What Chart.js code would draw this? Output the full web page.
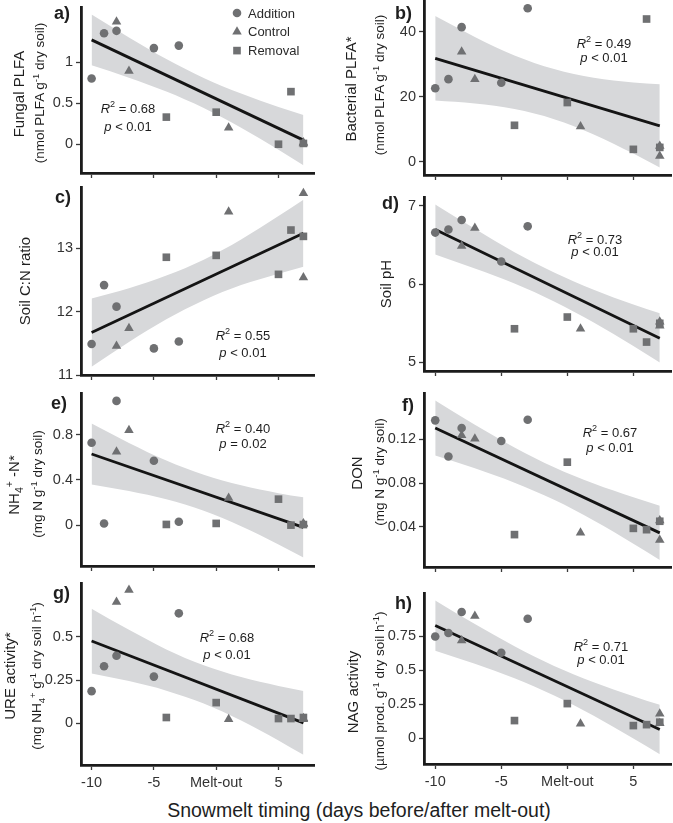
<!DOCTYPE html>
<html>
<head>
<meta charset="utf-8">
<script src="https://cdn.jsdelivr.net/npm/chart.js@4.4.0/dist/chart.umd.min.js"></script>
<style>
body { margin: 0; background: #fff; }
#fig { position: relative; width: 673px; height: 823px; overflow: hidden; font-family: "Liberation Sans", Arial, sans-serif; color: #1e1e1e; }
#fig canvas { position: absolute; }
.lbl { position: absolute; font-weight: bold; font-size: 18px; line-height: 1; transform: translate(-100%, -50%); }
.ytl { position: absolute; white-space: nowrap; line-height: 1; transform: translate(-50%, -50%) rotate(-90deg); }
.main { font-size: 15px; }
.sub { font-size: 13.5px; }
.stat { position: absolute; font-size: 13px; line-height: 1; white-space: nowrap; transform: translate(-50%, -50%); }
.xt { position: absolute; font-size: 19.5px; white-space: nowrap; line-height: 1; transform: translate(-50%, -50%); }
sup, sub { font-size: 0.7em; line-height: 0; }
</style>
</head>
<body>
<div id="fig"></div>
<script>
// x values (days relative to melt-out)
const xTickVals = [-10, -5, 0, 5];
const xTickLabels = ['-10', '-5', 'Melt-out', '5'];
const seriesNames = ['Addition', 'Control', 'Removal'];
const additionX = [-10, -9, -8, -5, -3];
const controlX = [-8, -7, 1, 7, 7];
const removalX = [-4, 0, 5, 6, 7];
const fitX = [-10, 7];
const bandX = [-10, -7, -4, -1, 2, 5, 7];

// a) Fungal PLFA
const fungalTicks = [0, 0.5, 1];
const fungalAdd = [0.80, 1.35, 1.38, 1.17, 1.20];
const fungalCtl = [1.49, 0.89, 0.20, 0.01, 0.02];
const fungalRem = [0.33, 0.39, 0.00, 0.64, 0.01];
const fungalFit = [1.27, 0.05];
const fungalUpper = [1.58, 1.30, 1.036, 0.807, 0.617, 0.454, 0.355];
const fungalLower = [0.96, 0.81, 0.642, 0.441, 0.201, -0.068, -0.255];

// b) Bacterial PLFA
const bactTicks = [0, 20, 40];
const bactAdd = [22.6, 25.4, 41.4, 24.3, 47.2];
const bactCtl = [33.8, 25.4, 10.8, 1.75, 4.8];
const bactRem = [11.2, 18.2, 3.8, 43.9, 4.4];
const bactFit = [31.8, 11.0];
const bactUpper = [44.8, 38.4, 32.7, 28.5, 25.8, 24.4, 23.8];
const bactLower = [18.8, 17.9, 16.2, 13.1, 8.4, 2.5, -1.8];

// c) Soil C:N
const cnTicks = [11, 12, 13];
const cnAdd = [11.49, 12.42, 12.08, 11.42, 11.53];
const cnCtl = [11.46, 11.74, 13.58, 13.87, 12.54];
const cnRem = [12.86, 12.89, 12.59, 13.29, 13.19];
const cnFit = [11.67, 13.24];
const cnUpper = [12.21, 12.37, 12.57, 12.82, 13.14, 13.51, 13.77];
const cnLower = [11.13, 11.52, 11.88, 12.18, 12.42, 12.60, 12.71];

// d) Soil pH
const phTicks = [5, 6, 7];
const phAdd = [6.66, 6.70, 6.82, 6.29, 6.74];
const phCtl = [6.49, 6.72, 5.43, 5.52, 5.47];
const phRem = [5.43, 5.58, 5.43, 5.26, 5.50];
const phFit = [6.70, 5.31];
const phUpper = [7.02, 6.71, 6.41, 6.15, 5.93, 5.74, 5.63];
const phLower = [6.38, 6.20, 6.01, 5.78, 5.51, 5.21, 5.00];

// e) NH4+-N
const nhTicks = [0, 0.4, 0.8];
const nhAdd = [0.73, 0.015, 1.10, 0.57, 0.03];
const nhCtl = [0.65, 0.84, 0.24, 0.015, 0.01];
const nhRem = [0.006, 0.015, 0.23, 0.0, 0.005];
const nhFit = [0.63, -0.02];
const nhUpper = [0.90, 0.728, 0.572, 0.445, 0.352, 0.283, 0.246];
const nhLower = [0.36, 0.302, 0.228, 0.127, -0.01, -0.171, -0.286];

// f) DON
const donTicks = [0.04, 0.08, 0.12];
const donAdd = [0.1374, 0.1044, 0.1304, 0.1185, 0.138];
const donCtl = [0.1237, 0.1206, 0.0346, 0.028, 0.0458];
const donRem = [0.033, 0.0992, 0.0387, 0.0375, 0.0452];
const donFit = [0.1304, 0.0346];
const donUpper = [0.1556, 0.1334, 0.1127, 0.0946, 0.0797, 0.0671, 0.0594];
const donLower = [0.1052, 0.0936, 0.0805, 0.0648, 0.0459, 0.0247, 0.0098];

// g) URE activity
const ureTicks = [0, 0.25, 0.5];
const ureAdd = [0.186, 0.33, 0.39, 0.27, 0.635];
const ureCtl = [0.70, 0.77, 0.024, 0.024, 0.03];
const ureRem = [0.034, 0.12, 0.028, 0.028, 0.034];
const ureFit = [0.475, 0.003];
const ureUpper = [0.662, 0.540, 0.427, 0.335, 0.267, 0.216, 0.187];
const ureLower = [0.288, 0.244, 0.189, 0.115, 0.017, -0.098, -0.181];

// h) NAG activity
const nagTicks = [0, 0.25, 0.5, 0.75];
const nagAdd = [0.75, 0.775, 0.93, 0.63, 0.88];
const nagCtl = [0.72, 0.90, 0.106, 0.18, 0.11];
const nagRem = [0.13, 0.255, 0.093, 0.10, 0.118];
const nagFit = [0.83, 0.064];
const nagUpper = [1.015, 0.841, 0.678, 0.533, 0.413, 0.310, 0.246];
const nagLower = [0.645, 0.549, 0.442, 0.315, 0.165, -0.002, -0.118];

const pointColor = '#6f7072';
const bandColor = 'rgb(215,216,218)';
const cols = [{ L: 81, R: 314 }, { L: 424, R: 671 }];

const panels = [
  { tag: 'a)', col: 0, T: 7, B: 173, yMin: -0.35, yMax: 1.67, ticks: fungalTicks, add: fungalAdd, ctl: fungalCtl, rem: fungalRem, fit: fungalFit, up: fungalUpper, lo: fungalLower,
    r2: '0.68', p: '&lt; 0.01', stat: [128, 108, 126], labY: 13, labR: 70,
    titles: [['main', 'Fungal PLFA', 18, 94], ['sub', '(nmol PLFA g<sup>-1</sup> dry soil)', 40, 93]], legend: true },
  { tag: 'b)', col: 1, T: 0, B: 175, yMin: -4.09, yMax: 49.75, ticks: bactTicks, add: bactAdd, ctl: bactCtl, rem: bactRem, fit: bactFit, up: bactUpper, lo: bactLower,
    r2: '0.49', p: '&lt; 0.01', stat: [604, 43, 57], labY: 13, labR: 412,
    titles: [['main', 'Bacterial PLFA*', 350, 89], ['sub', '(nmol PLFA g<sup>-1</sup> dry soil)', 380, 85]] },
  { tag: 'c)', col: 0, T: 187, B: 375, yMin: 11, yMax: 13.97, ticks: cnTicks, add: cnAdd, ctl: cnCtl, rem: cnRem, fit: cnFit, up: cnUpper, lo: cnLower,
    r2: '0.55', p: '&lt; 0.01', stat: [243, 335, 352], labY: 197, labR: 71,
    titles: [['main', 'Soil C:N ratio', 24, 281]] },
  { tag: 'd)', col: 1, T: 197, B: 371, yMin: 4.89, yMax: 7.115, ticks: phTicks, add: phAdd, ctl: phCtl, rem: phRem, fit: phFit, up: phUpper, lo: phLower,
    r2: '0.73', p: '&lt; 0.01', stat: [595, 239, 251], labY: 203, labR: 399,
    titles: [['main', 'Soil pH', 385, 284]] },
  { tag: 'e)', col: 0, T: 393, B: 566, yMin: -0.362, yMax: 1.17, ticks: nhTicks, add: nhAdd, ctl: nhCtl, rem: nhRem, fit: nhFit, up: nhUpper, lo: nhLower,
    r2: '0.40', p: '= 0.02', stat: [243, 428, 443], labY: 403, labR: 67,
    titles: [['main', 'NH<sub>4</sub><sup>+</sup> -N*', 13, 485], ['sub', '(mg N g<sup>-1</sup> dry soil)', 38, 484]] },
  { tag: 'f)', col: 1, T: 393, B: 567, yMin: 0.0034, yMax: 0.1624, ticks: donTicks, add: donAdd, ctl: donCtl, rem: donRem, fit: donFit, up: donUpper, lo: donLower,
    r2: '0.67', p: '&lt; 0.01', stat: [610, 432, 447], labY: 405, labR: 414,
    titles: [['main', 'DON', 356, 473], ['sub', '(mg N g<sup>-1</sup> dry soil)', 380, 472]] },
  { tag: 'g)', col: 0, T: 583, B: 765, yMin: -0.24, yMax: 0.81, ticks: ureTicks, add: ureAdd, ctl: ureCtl, rem: ureRem, fit: ureFit, up: ureUpper, lo: ureLower,
    r2: '0.68', p: '&lt; 0.01', stat: [227, 637, 654], labY: 593, labR: 70, bottom: true,
    titles: [['main', 'URE activity*', 9, 676], ['sub', '(mg NH<sub>4</sub><sup>+</sup> g<sup>-1</sup> dry soil h<sup>-1</sup>)', 37, 676]] },
  { tag: 'h)', col: 1, T: 593, B: 764, yMin: -0.19, yMax: 1.07, ticks: nagTicks, add: nagAdd, ctl: nagCtl, rem: nagRem, fit: nagFit, up: nagUpper, lo: nagLower,
    r2: '0.71', p: '&lt; 0.01', stat: [601, 646, 659], labY: 603, labR: 412, bottom: true,
    titles: [['main', 'NAG activity', 352, 692], ['sub', '(µmol prod. g<sup>-1</sup> dry soil h<sup>-1</sup>)', 380, 691]] }
];

const fig = document.getElementById('fig');

function pts(xs, ys) {
  return xs.map((x, i) => ({ x: x, y: ys[i] }));
}

function addHtml(cls, html, x, y) {
  const d = document.createElement('div');
  d.className = cls;
  d.innerHTML = html;
  d.style.left = x + 'px';
  d.style.top = y + 'px';
  fig.appendChild(d);
  return d;
}

// small legend in panel a
const markerStyles = ['circle', 'triangle', 'rect'];
const markerRadius = [4.3, 5.5, 5.4];
const cornerLegend = {
  id: 'cornerLegend',
  afterDraw(chart, args, opts) {
    if (!opts.show) return;
    const ctx = chart.ctx;
    const x0 = chart.chartArea.left + opts.dx;
    const y0 = chart.chartArea.top + opts.dy;
    ctx.save();
    seriesNames.forEach((name, i) => {
      const y = y0 + i * 18.8;
      ctx.fillStyle = pointColor;
      Chart.helpers.drawPoint(ctx, { pointStyle: markerStyles[i], radius: markerRadius[i], borderWidth: 0, rotation: 0 }, x0, y);
      ctx.fillStyle = '#2a2a2a';
      ctx.font = '13px "Liberation Sans", Arial, sans-serif';
      ctx.textBaseline = 'middle';
      ctx.fillText(name, x0 + 11, y + 1);
    });
    ctx.restore();
  }
};

const padL = 48, padT = 6, padR = 2;
const tickFont = { family: '"Liberation Sans", Arial, sans-serif', size: 14.5 };

panels.forEach(p => {
  const c = cols[p.col];
  const xh = p.bottom ? 30 : 8;
  const w = c.R - c.L + padL + padR;
  const h = p.B - p.T + padT + xh;
  const cv = document.createElement('canvas');
  cv.width = w;
  cv.height = h;
  cv.style.width = w + 'px';
  cv.style.height = h + 'px';
  cv.style.left = (c.L - padL) + 'px';
  cv.style.top = (p.T - padT) + 'px';
  fig.appendChild(cv);

  new Chart(cv, {
    type: 'scatter',
    data: {
      datasets: [
        { label: seriesNames[0], data: pts(additionX, p.add), pointStyle: 'circle', pointRadius: markerRadius[0], backgroundColor: pointColor, borderWidth: 0, order: 0, clip: false },
        { label: seriesNames[1], data: pts(controlX, p.ctl), pointStyle: 'triangle', pointRadius: markerRadius[1], backgroundColor: pointColor, borderWidth: 0, order: 0, clip: false },
        { label: seriesNames[2], data: pts(removalX, p.rem), pointStyle: 'rect', pointRadius: markerRadius[2], backgroundColor: pointColor, borderWidth: 0, order: 0, clip: false },
        { type: 'line', label: 'fit', data: pts(fitX, p.fit), borderColor: '#141414', borderWidth: 2.8, pointRadius: 0, fill: false, order: 1 },
        { type: 'line', label: 'ci-upper', data: pts(bandX, p.up), borderWidth: 0, borderColor: 'rgba(0,0,0,0)', pointRadius: 0, fill: '+1', backgroundColor: bandColor, cubicInterpolationMode: 'monotone', order: 2 },
        { type: 'line', label: 'ci-lower', data: pts(bandX, p.lo), borderWidth: 0, borderColor: 'rgba(0,0,0,0)', pointRadius: 0, fill: false, cubicInterpolationMode: 'monotone', order: 3 }
      ]
    },
    options: {
      responsive: false,
      animation: false,
      devicePixelRatio: 1,
      events: [],
      layout: { padding: { left: 0, top: padT, right: padR, bottom: 0 }, autoPadding: false },
      plugins: {
        legend: { display: false },
        tooltip: { enabled: false },
        cornerLegend: { show: !!p.legend, dx: 156, dy: 6 }
      },
      scales: {
        x: {
          type: 'linear',
          min: -10.85,
          max: 7.85,
          afterBuildTicks: s => { s.ticks = xTickVals.map(v => ({ value: v })); },
          afterFit: s => { s.height = xh; s.paddingLeft = 0; s.paddingRight = 0; },
          border: { display: true, width: 2.8, color: '#1b1b1b' },
          grid: { display: true, drawOnChartArea: false, drawTicks: true, tickLength: 5, tickWidth: 1.3, tickColor: '#3a3a3a', color: 'rgba(0,0,0,0)' },
          ticks: {
            display: !!p.bottom,
            autoSkip: false, maxRotation: 0, padding: 4,
            color: '#333',
            font: tickFont,
            callback: (v, i) => xTickLabels[i]
          }
        },
        y: {
          type: 'linear',
          min: p.yMin,
          max: p.yMax,
          afterBuildTicks: s => { s.ticks = p.ticks.map(v => ({ value: v })); },
          afterFit: s => { s.width = padL; s.paddingTop = 0; s.paddingBottom = 0; },
          border: { display: true, width: 2.8, color: '#1b1b1b' },
          grid: { display: true, drawOnChartArea: false, drawTicks: true, tickLength: 5, tickWidth: 1.3, tickColor: '#3a3a3a', color: 'rgba(0,0,0,0)' },
          ticks: {
            autoSkip: false, padding: 3,
            color: '#333',
            font: tickFont,
            callback: v => String(v)
          }
        }
      }
    },
    plugins: [cornerLegend]
  });

  addHtml('lbl', p.tag, p.labR, p.labY);
  p.titles.forEach(t => addHtml('ytl ' + t[0], t[1], t[2], t[3]));
  addHtml('stat', '<i>R</i><sup>2</sup> = ' + p.r2, p.stat[0], p.stat[1]);
  addHtml('stat', '<i>p</i> ' + p.p, p.stat[0], p.stat[2]);
});

addHtml('xt', 'Snowmelt timing (days before/after melt-out)', 359, 811);
</script>
</body>
</html>
